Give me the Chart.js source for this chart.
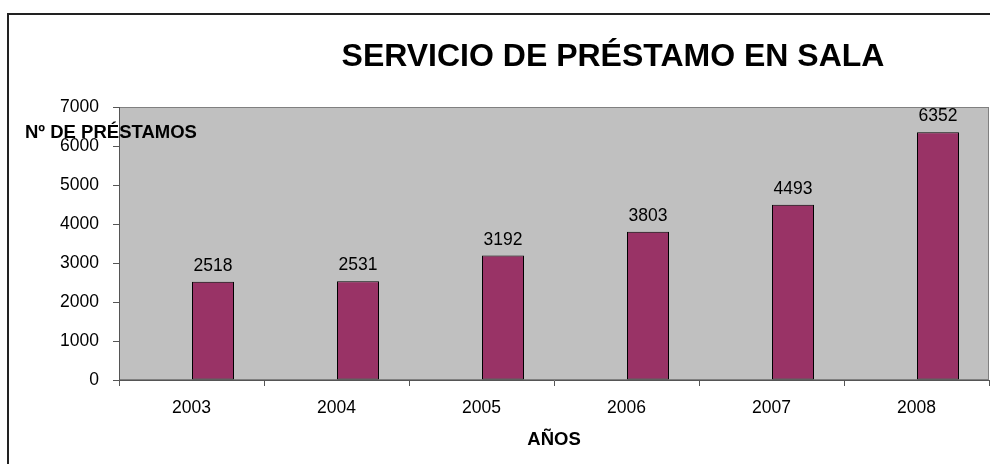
<!DOCTYPE html>
<html>
<head>
<meta charset="utf-8">
<script src="https://cdn.jsdelivr.net/npm/chart.js@4.4.1/dist/chart.umd.min.js"></script>
<style>
  html, body { margin: 0; padding: 0; background: #fff; overflow: hidden; }
  #wrap { position: relative; width: 990px; height: 464px; overflow: hidden; }
  #frame { position: absolute; left: 7px; top: 13px; width: 1100px; height: 600px; border: 2px solid #222; }
  #chart { position: absolute; left: 0; top: 0; }
</style>
</head>
<body>
<div id="wrap">
  <div id="frame"></div>
  <canvas id="chart" width="990" height="464"></canvas>
</div>
<script>
// Data
const years = ['2003', '2004', '2005', '2006', '2007', '2008'];
const loans = [2518, 2531, 3192, 3803, 4493, 6352];
// Excel chart had an empty first series, so bars sit right of the category centre
const emptySeries = [null, null, null, null, null, null];
const yTicks = [0, 1000, 2000, 3000, 4000, 5000, 6000, 7000];

const chartTitle = 'SERVICIO DE PRÉSTAMO EN SALA';
const yTitle = 'Nº DE PRÉSTAMOS';
const xTitle = 'AÑOS';

const FONT = '"Liberation Sans", Arial, sans-serif';
const AXIS = '#555555';

// Gray plot background with border
const plotArea = {
    id: 'plotArea',
    beforeDraw(chart) {
        const { ctx, chartArea: a } = chart;
        ctx.save();
        ctx.fillStyle = '#C0C0C0';
        ctx.fillRect(a.left, a.top, a.right - a.left, a.bottom - a.top);
        ctx.strokeStyle = '#808080';
        ctx.lineWidth = 1;
        ctx.strokeRect(a.left + 0.5, a.top + 0.5, a.right - a.left - 1, a.bottom - a.top - 1);
        ctx.restore();
    }
};

// Value labels over the bars
const valueLabels = {
    id: 'valueLabels',
    afterDatasetsDraw(chart) {
        const ctx = chart.ctx;
        const meta = chart.getDatasetMeta(1);
        ctx.save();
        ctx.font = '17.5px ' + FONT;
        ctx.fillStyle = '#000';
        ctx.textAlign = 'center';
        ctx.textBaseline = 'alphabetic';
        meta.data.forEach((bar, i) => {
            ctx.fillText(String(loans[i]), bar.x, bar.y - 11);
        });
        ctx.restore();
    }
};

// Chart title and the horizontal y-axis title
const titles = {
    id: 'titles',
    afterDraw(chart) {
        const ctx = chart.ctx;
        ctx.save();
        ctx.fillStyle = '#000';
        ctx.textBaseline = 'middle';
        ctx.textAlign = 'center';
        ctx.font = 'bold 32px ' + FONT;
        ctx.fillText(chartTitle, 613, 57);
        ctx.textAlign = 'left';
        ctx.font = 'bold 18.5px ' + FONT;
        ctx.fillText(yTitle, 25, 133);
        ctx.restore();
    }
};

new Chart(document.getElementById('chart'), {
    type: 'bar',
    data: {
        labels: years,
        datasets: [
            {
                label: '',
                data: emptySeries,
                backgroundColor: '#993366',
                borderColor: '#000',
                borderWidth: 1
            },
            {
                label: yTitle,
                data: loans,
                backgroundColor: '#993366',
                borderColor: '#000',
                borderWidth: 1,
                borderSkipped: false
            }
        ]
    },
    options: {
        responsive: false,
        devicePixelRatio: 1,
        animation: false,
        // slot of 43px, bar of 42px -> bar edges land on whole pixels
        categoryPercentage: 86 / 145,
        barPercentage: 42 / 43,
        layout: { padding: { left: 0, right: 1, top: 107, bottom: 0 } },
        plugins: {
            legend: { display: false },
            title: { display: false },
            tooltip: { enabled: false }
        },
        scales: {
            x: {
                grid: {
                    display: true,
                    offset: true,
                    drawOnChartArea: false,
                    drawTicks: true,
                    tickLength: 6,
                    tickColor: AXIS
                },
                border: { display: true, color: AXIS, width: 1 },
                ticks: {
                    color: '#000',
                    padding: 12,
                    font: { family: FONT, size: 17.5 }
                },
                title: {
                    display: true,
                    text: xTitle,
                    color: '#000',
                    font: { family: FONT, size: 18.5, weight: 'bold' },
                    padding: { top: 0, bottom: 13 }
                },
                afterFit: (scale) => { scale.height = 84; }
            },
            y: {
                min: yTicks[0],
                max: yTicks[yTicks.length - 1],
                afterBuildTicks: (scale) => { scale.ticks = yTicks.map(v => ({ value: v })); },
                grid: {
                    display: true,
                    drawOnChartArea: false,
                    drawTicks: true,
                    tickLength: 6,
                    tickColor: AXIS
                },
                border: { display: true, color: AXIS, width: 1 },
                ticks: {
                    color: '#000',
                    padding: 14,
                    font: { family: FONT, size: 17.5 },
                    callback: (v) => String(v)
                },
                afterFit: (scale) => { scale.width = 119; }
            }
        }
    },
    plugins: [plotArea, valueLabels, titles]
});
</script>
</body>
</html>
